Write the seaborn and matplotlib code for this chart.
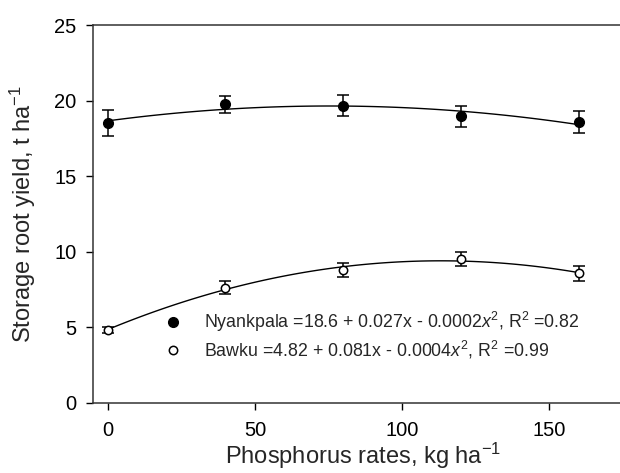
import matplotlib
matplotlib.use("Agg")
import matplotlib.pyplot as plt
import pandas as pd
import seaborn as sns
from matplotlib.lines import Line2D

# Values
p_rates = [0, 40, 80, 120, 160]
nyankpala_yield = [18.5, 19.75, 19.66, 18.96, 18.58]
nyankpala_err = [0.85, 0.55, 0.70, 0.68, 0.73]
bawku_yield = [4.83, 7.63, 8.80, 9.55, 8.58]
bawku_err = [0.18, 0.44, 0.45, 0.47, 0.50]

labels = [
    r"Nyankpala =18.6 + 0.027x - 0.0002$\mathit{x}^2$, R$^2$ =0.82",
    r"Bawku =4.82 + 0.081x - 0.0004$\mathit{x}^2$, R$^2$ =0.99",
]

df = pd.DataFrame({
    "P": p_rates * 2,
    "yield": nyankpala_yield + bawku_yield,
    "site": ["Nyankpala"] * 5 + ["Bawku"] * 5,
})

sns.set_style("ticks")
plt.rcParams["font.family"] = ["Liberation Sans", "DejaVu Sans"]
plt.rcParams["mathtext.fontset"] = "custom"
plt.rcParams["mathtext.rm"] = "Liberation Sans"
plt.rcParams["mathtext.it"] = "Liberation Sans:italic"

fig = plt.figure(figsize=(6.2, 4.73), dpi=100)
ax = fig.add_axes([0.15, 0.148, 0.85, 0.799])

# Quadratic fits
for site in ["Nyankpala", "Bawku"]:
    sns.regplot(data=df[df["site"] == site], x="P", y="yield", order=2, ci=None,
                scatter=False, ax=ax, line_kws={"color": "black", "lw": 1.0})

# Means with error bars
ax.errorbar(p_rates, nyankpala_yield, yerr=nyankpala_err, fmt="o", color="black",
            ms=7, capsize=4.3, elinewidth=1.1, capthick=1.1, zorder=3)
ax.errorbar(p_rates, bawku_yield, yerr=bawku_err, fmt="o", color="black", mfc="white",
            mec="black", mew=1.1, ms=6, capsize=4.3, elinewidth=1.1, capthick=1.1, zorder=3)

ax.set_xlim(-5, 174)
ax.set_ylim(0, 25)
ax.set_xticks([0, 50, 100, 150])
ax.set_yticks([0, 5, 10, 15, 20, 25])
ax.tick_params(labelsize=14.5, length=5, width=1, direction="out", colors="black")
ax.tick_params(axis="x", pad=8)
ax.tick_params(axis="y", pad=7)
ax.set_xlabel(r"Phosphorus rates, kg ha$^{-1}$", fontsize=17)
ax.xaxis.set_label_coords(0.512, -0.1)
ax.set_ylabel(r"Storage root yield, t ha$^{-1}$", fontsize=17)
ax.yaxis.set_label_coords(-0.104, 0.5)

ax.spines["right"].set_visible(False)
for s in ["left", "bottom", "top"]:
    ax.spines[s].set_color("#333333")
    ax.spines[s].set_linewidth(1.1)

handles = [
    Line2D([], [], marker="o", ls="none", color="black", ms=7),
    Line2D([], [], marker="o", ls="none", mfc="white", mec="black", mew=1.1, ms=6),
]
ax.legend(handles, labels, loc="upper left", bbox_to_anchor=(0.122, 0.265),
          frameon=False, fontsize=12.8, handlelength=1.0, handletextpad=1.2,
          labelspacing=0.28, borderaxespad=0)

fig.savefig("out.png", dpi=100)
